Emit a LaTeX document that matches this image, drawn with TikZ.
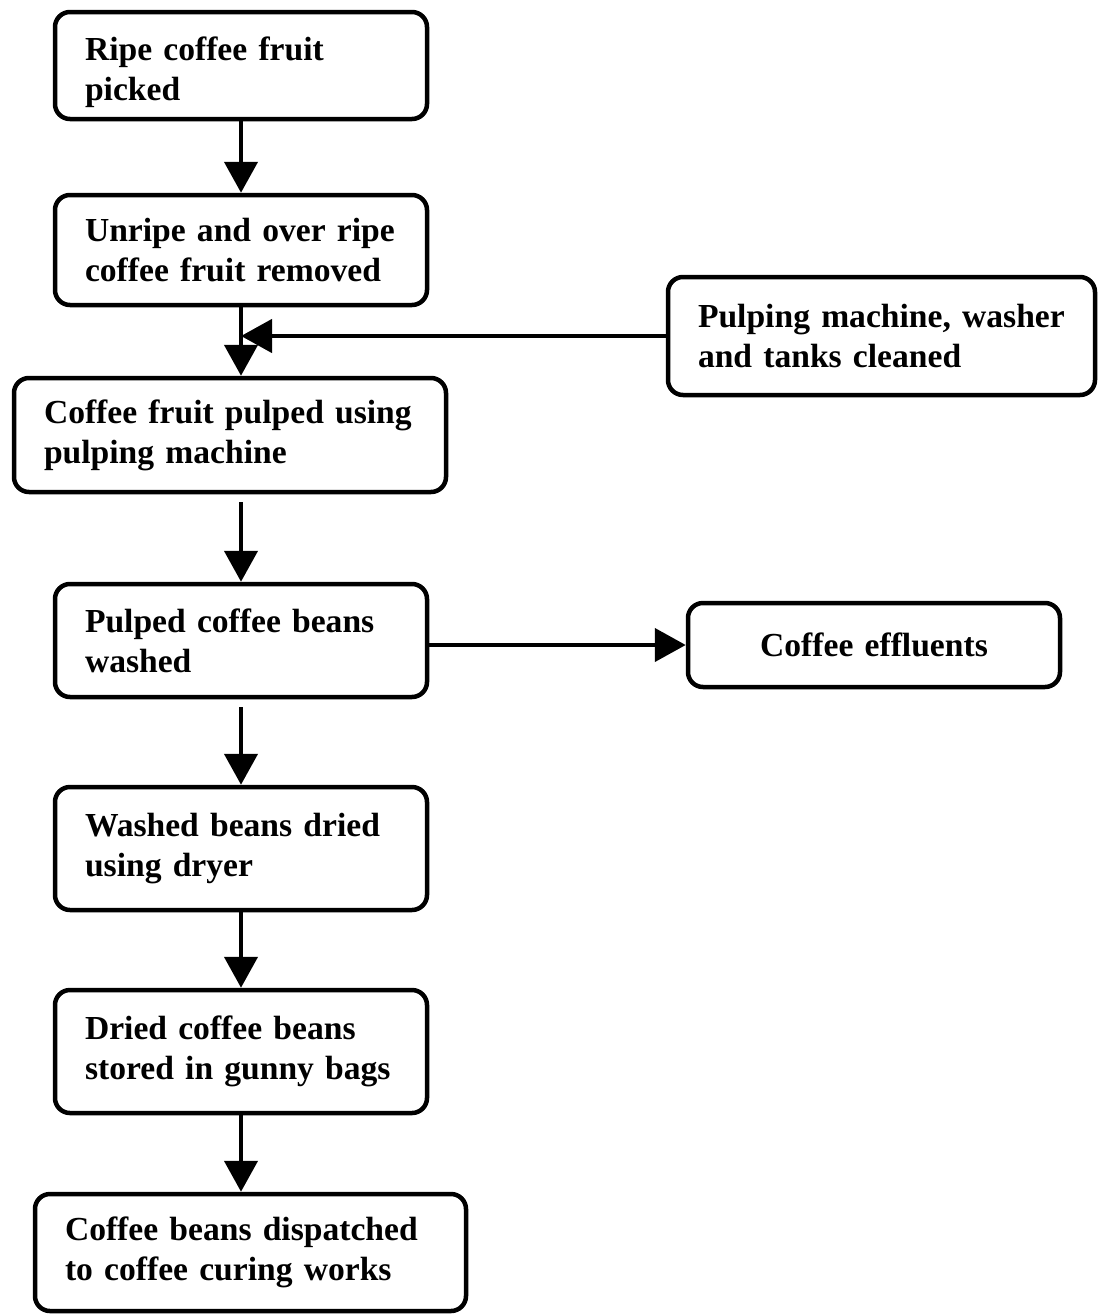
\documentclass[tikz,border=0pt]{standalone}
\usepackage{fontspec}
\setmainfont{Liberation Serif}
\usetikzlibrary{arrows.meta}
\tikzset{
  stepbox/.style={draw, line width=4.5pt, rounded corners=15pt, inner xsep=30pt, inner ysep=4pt,
    align=left, font=\fontsize{33.6}{40}\selectfont\bfseries, anchor=center},
  centerbox/.style={stepbox, align=center},
  arr/.style={line width=4.5pt, -{Triangle[width=33pt,length=31pt]}}
}
\newcommand\tl[1]{\mbox{#1}}
\begin{document}
\begin{tikzpicture}[x=1pt,y=-1pt]
\useasboundingbox (0,0) rectangle (1098,1315);
\node[stepbox, minimum width=372pt, minimum height=107pt, text width=312pt] (b1) at (241,65.5) {\tl{\rule{0pt}{37pt}Ripe coffee fruit}\\\tl{picked}};
\node[stepbox, minimum width=372pt, minimum height=110pt, text width=312pt] (b2) at (241,250) {\tl{Unripe and over ripe}\\\tl{coffee fruit removed}};
\node[stepbox, minimum width=427pt, minimum height=118pt, text width=367pt] (b3) at (881.5,336) {\tl{Pulping machine, washer}\\\tl{and tanks cleaned}};
\node[stepbox, minimum width=432pt, minimum height=114pt, text width=372pt] (b4) at (230,435) {\tl{Coffee fruit pulped using}\\\tl{pulping machine}};
\node[stepbox, minimum width=372pt, minimum height=113pt, text width=312pt] (b5) at (241,640.5) {\tl{Pulped coffee beans}\\\tl{washed}};
\node[centerbox, minimum width=372pt, minimum height=84pt, text width=312pt] (b6) at (874,645) {\tl{Coffee effluents}};
\node[stepbox, minimum width=372pt, minimum height=123pt, text width=312pt] (b7) at (241,848.5) {\tl{Washed beans dried}\\\tl{using dryer}};
\node[stepbox, minimum width=372pt, minimum height=123pt, text width=312pt] (b8) at (241,1051.5) {\tl{Dried coffee beans}\\\tl{stored in gunny bags}};
\node[stepbox, minimum width=431pt, minimum height=117pt, text width=371pt] (b9) at (250.5,1252.5) {\tl{Coffee beans dispatched}\\\tl{to coffee curing works}};
\draw[arr] (b1.south) -- (b2.north);
\draw[arr] (b2.south) -- (b2.south |- b4.north);
\draw[arr] (b3.west) -- (b3.west -| b2.south);
\draw[arr, shorten <=8pt] (b2.south |- b4.south) -- (b5.north);
\draw[arr] (b6.west -| b5.east) -- (b6.west);
\draw[arr, shorten <=8pt] (b5.south) -- (b7.north);
\draw[arr] (b7.south) -- (b8.north);
\draw[arr] (b8.south) -- (b8.south |- b9.north);
\end{tikzpicture}
\end{document}
